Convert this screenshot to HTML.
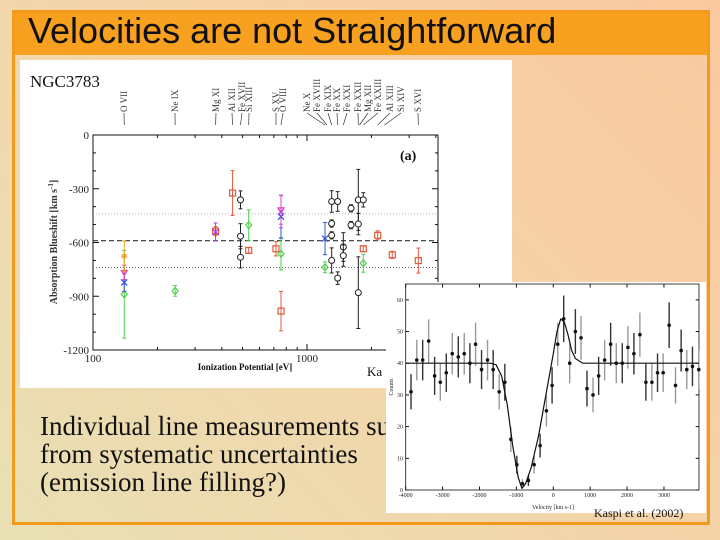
<!DOCTYPE html>
<html><head><meta charset="utf-8"><style>
html,body{margin:0;padding:0;width:720px;height:540px;overflow:hidden}
body{background:linear-gradient(225deg,#fac9a0 0%,#f6d2a8 40%,#e8e0b4 100%);font-family:"Liberation Sans",sans-serif;position:relative}
#frame{position:absolute;left:12px;top:10px;width:692px;height:509px;border:3px solid #f39a1c}
#titlebar{position:absolute;left:15px;top:13px;width:692px;height:42px;background:#f8a020}
#title{position:absolute;left:28px;top:10px;font-size:36px;color:#111;white-space:nowrap}
#body{position:absolute;left:40px;top:412px;font-family:"Liberation Serif",serif;font-size:27px;line-height:28px;color:#111;white-space:nowrap}
svg{position:absolute;left:0;top:0}
</style></head><body>
<div id="frame"></div>
<div id="titlebar"></div>
<div id="title">Velocities are not Straightforward</div>
<div id="body">Individual line measurements suffer<br>from systematic uncertainties<br>(emission line filling?)</div>
<svg id="s" width="720" height="540" xmlns="http://www.w3.org/2000/svg"></svg>
<script>
// ---- Left chart data ----
const redIP=[374,449,534,716,756,1833,2140,2503,3313];
const redV=[-537,-324,-644,-635,-983,-635,-560,-669,-701];
const redE=[25,125,15,40,110,15,25,20,70];
const blackIP=[489,489,489,1304,1304,1304,1304,1391,1391,1478,1478,1606,1606,1737,1737,1737,1833];
const blackV=[-362,-565,-682,-371,-494,-560,-700,-371,-799,-625,-673,-409,-503,-362,-497,-880,-362];
const blackE=[50,70,60,60,20,20,70,55,35,80,60,20,20,170,60,200,40];
const greenIP=[140,242,534,756,1214,1833];
const greenV=[-889,-870,-503,-663,-738,-716];
const greenE=[245,30,85,90,30,50];
const blueIP=[140,756,1214];
const blueV=[-823,-456,-578];
const blueE=[50,120,90];
const purpleIP=[374,756];
const purpleV=[-541,-428];
const purpleE=[50,90];
const magentaIP=[140,756];
const magentaV=[-767,-418];
const magentaE=[40,80];
const orangeIP=[140];
const orangeV=[-676];
const orangeE=[85];
const yTicks=[0,-300,-600,-900,-1200];
const meanLine=[-590];
const dotLines=[-440,-740];
const ionLabels=["O VII","Ne IX","Mg XI","Al XII","Fe XVII","Si XIII","S XV","O VIII","Ne X","Fe XVIII","Fe XIX","Fe XX","Fe XXI","Fe XXII","Mg XII","Fe XXIII","Al XIII","Si XIV","S XVI"];
const ionIP=[140,242,374,449,489,534,716,756,1214,1240,1304,1391,1478,1737,1760,1833,2140,2300,3313];
// ---- Right chart data ----
const velV=[-3856,-3700,-3540,-3378,-3216,-3062,-2900,-2738,-2575,-2413,-2260,-2106,-1944,-1782,-1629,-1466,-1313,-1150,-988,-835,-673,-519,-357,-186,-32,121,283,445,599,752,914,1077,1230,1392,1555,1708,1870,2023,2186,2348,2510,2673,2826,2979,3141,3313,3466,3619,3773,3944];
const cntV=[31,41,41,47,36,34,37,43,42,43,40,46,38,41,38,31,34,16,8,2,3,8,14,25,33,46,54,40,50,48,32,30,36,41,46,40,40,45,43,49,34,34,37,37,52,33,44,38,39,38];
const modelVel=[-4000,-1700,-1550,-1400,-1250,-1100,-950,-850,-750,-600,-400,-200,0,100,200,300,400,500,600,800,3950];
const modelCnt=[40,40,39.5,36,27,14,4,0.5,2,7,17,30,43,50,54,53,49,44,41.5,40,40];
const rxTicks=[-4000,-3000,-2000,-1000,0,1000,2000,3000];
const ryTicks=[0,10,20,30,40,50,60];

const NS="http://www.w3.org/2000/svg";
const S=document.getElementById('s');
function mk(t,a,p){const e=document.createElementNS(NS,t);for(const k in a)e.setAttribute(k,a[k]);(p||S).appendChild(e);return e;}
const LX=ip=>93+214*Math.log10(ip/100);
const LY=v=>135+(-v)/1200*215;
let r=mk('rect',{x:20,y:60,width:492,height:328,fill:'#fff'});


let t=mk('text',{x:30,y:87,'font-family':'Liberation Serif,serif','font-size':17,fill:'#111'});t.textContent='NGC3783';


r=mk('rect',{x:93,y:135,width:345,height:215,fill:'none',stroke:'#111','stroke-width':1});


for(let v=0;v>=-1200;v-=100){const len=(v%300===0)?6:3;const y=LY(v);mk('line',{x1:93,y1:y,x2:93+len,y2:y,stroke:'#111'});mk('line',{x1:438,y1:y,x2:438-len,y2:y,stroke:'#111'});}
yTicks.forEach(v=>{const e=mk('text',{x:89,y:LY(v)+4,'text-anchor':'end','font-family':'Liberation Serif,serif','font-size':11,fill:'#222'});e.textContent=v;

});
[100,200,300,400,500,600,700,800,900,1000,2000,3000,4000].forEach(ip=>{const x=LX(ip);const len=(ip===100||ip===1000)?6:3;mk('line',{x1:x,y1:350,x2:x,y2:350-len,stroke:'#111'});mk('line',{x1:x,y1:135,x2:x,y2:135+len,stroke:'#111'});});
[[100,'100'],[1000,'1000']].forEach(([ip,s])=>{const e=mk('text',{x:LX(ip),y:362,'text-anchor':'middle','font-family':'Liberation Serif,serif','font-size':11,fill:'#222'});e.textContent=s;

});
t=mk('text',{x:245,y:370,'text-anchor':'middle','font-family':'Liberation Serif,serif','font-size':9,'font-weight':'bold',fill:'#111'});t.textContent='Ionization Potential [eV]';


t=mk('text',{x:0,y:0,transform:'translate(57,242) rotate(-90)','text-anchor':'middle','font-family':'Liberation Serif,serif','font-size':10,'font-weight':'bold',fill:'#333'});t.innerHTML='Absorption Blueshift [km s<tspan dy="-4" font-size="7">-1</tspan><tspan dy="4">]</tspan>';


t=mk('text',{x:400,y:160,'font-family':'Liberation Serif,serif','font-size':14,'font-weight':'bold',fill:'#111'});t.textContent='(a)';


t=mk('text',{x:367,y:376,'font-family':'Liberation Serif,serif','font-size':13,fill:'#111'});t.textContent='Ka';


meanLine.forEach(v=>{const e=mk('line',{x1:93,x2:438,y1:LY(v),y2:LY(v),stroke:'#333','stroke-width':1.2,'stroke-dasharray':'5,3'});

});
dotLines.forEach((v,i)=>{const e=mk('line',{x1:93,x2:438,y1:LY(v),y2:LY(v),stroke:i?'#555':'#aaa','stroke-width':0.8,'stroke-dasharray':'1,2'});

});
const labelX=[124,175,216,232,242,249,276,283,307,317,328,337,347,358,368,378,390,401,418];
ionLabels.forEach((s,i)=>{const lx=labelX[i];const px=LX(ionIP[i]);
mk('line',{x1:lx,y1:113,x2:px,y2:125,stroke:'#333','stroke-width':0.7});
const e=mk('text',{x:0,y:0,transform:`translate(${lx+3},112) rotate(-90)`,'font-family':'Liberation Serif,serif','font-size':9,fill:'#333'});e.textContent=s;

});
function series(ips,vs,es,color,shape,name){ips.forEach((ip,i)=>{const x=LX(ip),y=LY(vs[i]);
const e=mk('g',{});


mk('line',{x1:x,x2:x,y1:LY(vs[i]+es[i]),y2:LY(vs[i]-es[i]),stroke:color,'stroke-width':1},e);
mk('line',{x1:x-2,x2:x+2,y1:LY(vs[i]+es[i]),y2:LY(vs[i]+es[i]),stroke:color},e);
mk('line',{x1:x-2,x2:x+2,y1:LY(vs[i]-es[i]),y2:LY(vs[i]-es[i]),stroke:color},e);
if(shape==='sq')mk('rect',{x:x-3,y:y-3,width:6,height:6,fill:'none',stroke:color,'stroke-width':1.2},e);
else if(shape==='ci')mk('circle',{cx:x,cy:y,r:3,fill:'#fff',stroke:color,'stroke-width':1},e);
else if(shape==='di')mk('path',{d:`M${x} ${y-3.5}L${x+3} ${y}L${x} ${y+3.5}L${x-3} ${y}Z`,fill:'none',stroke:color,'stroke-width':1.2},e);
else if(shape==='x')mk('path',{d:`M${x-3} ${y-3}L${x+3} ${y+3}M${x+3} ${y-3}L${x-3} ${y+3}`,stroke:color,'stroke-width':1.3},e);
else if(shape==='tr')mk('path',{d:`M${x-3} ${y-2}L${x+3} ${y-2}L${x} ${y+3}Z`,fill:'none',stroke:color,'stroke-width':1.2},e);
else mk('path',{d:`M${x-3} ${y}L${x+3} ${y}M${x} ${y-3}L${x} ${y+3}M${x-2} ${y-2}L${x+2} ${y+2}M${x+2} ${y-2}L${x-2} ${y+2}`,stroke:color,'stroke-width':1.2},e);
});}
series(greenIP,greenV,greenE,'#4fd04f','di','green-diamond-point');
series(blackIP,blackV,blackE,'#222','ci','black-circle-point');
series(redIP,redV,redE,'#e05a3c','sq','red-square-point');
series(blueIP,blueV,blueE,'#3356d8','x','blue-cross-point');
series(purpleIP,purpleV,purpleE,'#9a40e8','x','purple-cross-point');
series(magentaIP,magentaV,magentaE,'#e040c8','tr','magenta-triangle-point');
series(orangeIP,orangeV,orangeE,'#f0a020','st','orange-star-point');

const RX=v=>405.7+(v+4000)/7950*293.3;
const RY=c=>490-c/65*206;
r=mk('rect',{x:386,y:282,width:320,height:231,fill:'#fff'});


r=mk('rect',{x:405.7,y:284,width:293.3,height:206,fill:'none',stroke:'#111','stroke-width':0.8});


ryTicks.forEach(c=>{const y=RY(c);mk('line',{x1:405.7,x2:409,y1:y,y2:y,stroke:'#111'});mk('line',{x1:699,x2:695.7,y1:y,y2:y,stroke:'#111'});
const e=mk('text',{x:403,y:y+2,'text-anchor':'end','font-family':'Liberation Serif,serif','font-size':6,fill:'#222'});e.textContent=c;

});
rxTicks.forEach(v=>{const x=RX(v);mk('line',{x1:x,x2:x,y1:490,y2:486.5,stroke:'#111'});mk('line',{x1:x,x2:x,y1:284,y2:287.5,stroke:'#111'});
const e=mk('text',{x:x,y:497,'text-anchor':'middle','font-family':'Liberation Serif,serif','font-size':6,fill:'#222'});e.textContent=v;

});
t=mk('text',{x:553,y:509,'text-anchor':'middle','font-family':'Liberation Serif,serif','font-size':6,fill:'#222'});t.textContent='Velocity [km s-1]';


t=mk('text',{x:0,y:0,transform:'translate(393,387) rotate(-90)','text-anchor':'middle','font-family':'Liberation Serif,serif','font-size':6,fill:'#222'});t.textContent='Counts';


velV.forEach((v,i)=>{const x=RX(v),c=cntV[i],e=Math.sqrt(Math.max(c,2));
const l=mk('line',{x1:x,x2:x,y1:RY(c+e),y2:RY(Math.max(c-e,0)),stroke:i%2?'#999':'#333','stroke-width':1.4});


const d=mk('circle',{cx:x,cy:RY(c),r:1.8,fill:'#111'});

});
let pd='';modelVel.forEach((v,i)=>{pd+=(i?'L':'M')+RX(v).toFixed(1)+' '+RY(modelCnt[i]).toFixed(1);});
const mp=mk('path',{d:pd,fill:'none',stroke:'#111','stroke-width':1.2,'stroke-linejoin':'round'});


t=mk('text',{x:594,y:517,'font-family':'Liberation Serif,serif','font-size':12,fill:'#111'});t.textContent='Kaspi et al. (2002)';


</script>
</body></html>
